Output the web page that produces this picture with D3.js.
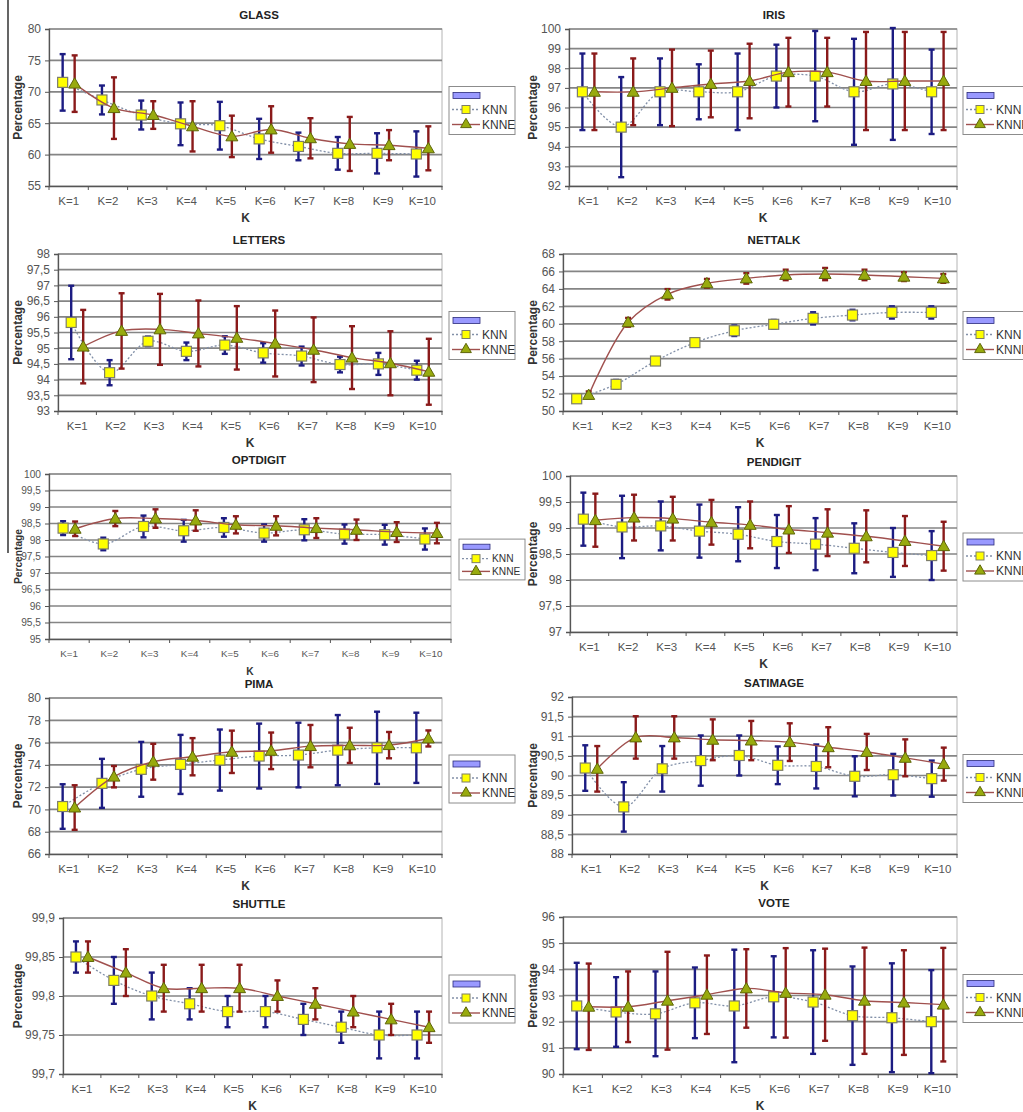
<!DOCTYPE html>
<html>
<head>
<meta charset="utf-8">
<script src="https://cdn.jsdelivr.net/npm/d3@7"></script>
<style>
  body { margin: 0; background: #fff; }
  text { font-family: Arial, "Liberation Sans", sans-serif; }
</style>
</head>
<body>
<div id="chart"></div>
<script>
// categories
const kLabels = ["K=1", "K=2", "K=3", "K=4", "K=5", "K=6", "K=7", "K=8", "K=9", "K=10"];

// GLASS
const glassKnn    = [71.5, 68.7, 66.3, 64.9, 64.6, 62.5, 61.3, 60.2, 60.2, 60.1];
const glassKnnSd  = [4.5, 2.3, 2.3, 3.4, 3.8, 3.2, 2.2, 2.6, 3.2, 3.6];
const glassKnne   = [71.3, 67.4, 66.3, 64.5, 62.9, 64.0, 62.6, 61.7, 61.5, 61.0];
const glassKnneSd = [4.5, 4.9, 2.2, 4.0, 3.3, 3.7, 3.2, 4.3, 2.4, 3.5];
const glassTicks  = [55, 60, 65, 70, 75, 80];

// IRIS
const irisKnn    = [96.8, 95.0, 96.8, 96.8, 96.8, 97.6, 97.6, 96.8, 97.2, 96.8];
const irisKnnSd  = [1.95, 2.55, 1.7, 1.4, 1.95, 1.6, 2.3, 2.7, 2.85, 2.15];
const irisKnne   = [96.8, 96.8, 97.0, 97.2, 97.35, 97.8, 97.8, 97.35, 97.35, 97.35];
const irisKnneSd = [1.95, 1.7, 1.95, 1.7, 1.9, 1.75, 1.75, 2.5, 2.5, 2.5];
const irisTicks  = [92, 93, 94, 95, 96, 97, 98, 99, 100];

// LETTERS
const lettersKnn    = [95.82, 94.22, 95.22, 94.9, 95.1, 94.85, 94.75, 94.48, 94.5, 94.3];
const lettersKnnSd  = [1.17, 0.4, 0.15, 0.28, 0.28, 0.31, 0.3, 0.25, 0.35, 0.3];
const lettersKnne   = [95.05, 95.55, 95.6, 95.47, 95.33, 95.15, 94.95, 94.7, 94.52, 94.25];
const lettersKnneSd = [1.17, 1.2, 1.13, 1.05, 1.01, 1.05, 1.03, 1.0, 1.02, 1.05];
const lettersTicks  = [93, 93.5, 94, 94.5, 95, 95.5, 96, 96.5, 97, 97.5, 98];

// NETTALK
const nettalkKnn    = [51.4, 53.06, 55.73, 57.84, 59.2, 59.94, 60.62, 61.0, 61.3, 61.3];
const nettalkKnnSd  = [0.2, 0.5, 0.3, 0.3, 0.6, 0.5, 0.7, 0.6, 0.7, 0.7];
const nettalkKnne   = [51.84, 60.17, 63.38, 64.64, 65.2, 65.6, 65.7, 65.6, 65.4, 65.2];
const nettalkKnneSd = [0.4, 0.5, 0.6, 0.5, 0.6, 0.6, 0.7, 0.6, 0.5, 0.5];
const nettalkTicks  = [50, 52, 54, 56, 58, 60, 62, 64, 66, 68];

// OPTDIGIT
const optKnn    = [98.36, 97.88, 98.41, 98.28, 98.38, 98.21, 98.31, 98.18, 98.16, 98.03];
const optKnnSd  = [0.21, 0.19, 0.33, 0.33, 0.28, 0.26, 0.32, 0.29, 0.3, 0.32];
const optKnne   = [98.34, 98.65, 98.65, 98.59, 98.46, 98.43, 98.36, 98.31, 98.24, 98.21];
const optKnneSd = [0.22, 0.23, 0.28, 0.31, 0.26, 0.29, 0.3, 0.31, 0.3, 0.31];
const optTicks  = [95, 95.5, 96, 96.5, 97, 97.5, 98, 98.5, 99, 99.5, 100];

// PENDIGIT
const penKnn    = [99.17, 99.02, 99.04, 98.94, 98.88, 98.74, 98.69, 98.61, 98.53, 98.47];
const penKnnSd  = [0.51, 0.6, 0.47, 0.51, 0.52, 0.51, 0.5, 0.48, 0.47, 0.47];
const penKnne   = [99.15, 99.2, 99.18, 99.11, 99.06, 98.97, 98.91, 98.84, 98.75, 98.65];
const penKnneSd = [0.51, 0.44, 0.42, 0.43, 0.45, 0.45, 0.45, 0.5, 0.48, 0.47];
const penTicks  = [97, 97.5, 98, 98.5, 99, 99.5, 100];

// PIMA
const pimaKnn    = [70.26, 72.34, 73.6, 74.04, 74.43, 74.79, 74.88, 75.32, 75.53, 75.53];
const pimaKnnSd  = [2.0, 2.2, 2.46, 2.65, 2.74, 2.91, 2.9, 3.15, 3.24, 3.15];
const pimaKnne   = [70.17, 72.94, 74.28, 74.73, 75.17, 75.26, 75.68, 75.75, 75.77, 76.37];
const pimaKnneSd = [2.0, 0.96, 1.61, 1.67, 1.9, 1.64, 1.9, 1.58, 1.18, 0.72];
const pimaTicks  = [66, 68, 70, 72, 74, 76, 78, 80];

// SATIMAGE
const satKnn    = [90.19, 89.2, 90.17, 90.38, 90.51, 90.26, 90.23, 89.98, 90.02, 89.92];
const satKnnSd  = [0.58, 0.63, 0.58, 0.64, 0.51, 0.48, 0.56, 0.51, 0.53, 0.46];
const satKnne   = [90.17, 90.97, 90.97, 90.91, 90.89, 90.85, 90.72, 90.6, 90.45, 90.29];
const satKnneSd = [0.58, 0.54, 0.54, 0.52, 0.5, 0.48, 0.51, 0.46, 0.47, 0.42];
const satTicks  = [88, 88.5, 89, 89.5, 90, 90.5, 91, 91.5, 92];

// SHUTTLE
const shuttleKnn    = [99.85, 99.82, 99.80, 99.79, 99.78, 99.78, 99.77, 99.76, 99.75, 99.75];
const shuttleKnnSd  = [0.02, 0.03, 0.03, 0.02, 0.02, 0.02, 0.02, 0.02, 0.03, 0.03];
const shuttleKnne   = [99.85, 99.83, 99.81, 99.81, 99.81, 99.80, 99.79, 99.78, 99.77, 99.76];
const shuttleKnneSd = [0.02, 0.03, 0.03, 0.03, 0.03, 0.02, 0.02, 0.02, 0.02, 0.02];
const shuttleTicks  = [99.7, 99.75, 99.8, 99.85, 99.9];

// VOTE
const voteKnn    = [92.6, 92.37, 92.3, 92.72, 92.6, 92.95, 92.75, 92.23, 92.15, 92.0];
const voteKnnSd  = [1.65, 1.33, 1.62, 1.35, 2.15, 1.55, 1.98, 1.88, 2.08, 1.97];
const voteKnne   = [92.57, 92.57, 92.8, 93.03, 93.27, 93.1, 93.03, 92.8, 92.73, 92.65];
const voteKnneSd = [1.65, 1.35, 1.87, 1.5, 1.5, 1.71, 1.76, 2.03, 2.0, 2.17];
const voteTicks  = [90, 91, 92, 93, 94, 95, 96];

// layout (plot boxes in page pixels)
const panels = [
  {title: "GLASS",    col: 0, left: 49,  top: 29,  right: 442, bottom: 186, ticks: glassTicks,   knn: glassKnn,   knnSd: glassKnnSd,   knne: glassKnne,   knneSd: glassKnneSd},
  {title: "IRIS",     col: 1, left: 569, top: 29,  right: 957, bottom: 186, ticks: irisTicks,    knn: irisKnn,    knnSd: irisKnnSd,    knne: irisKnne,    knneSd: irisKnneSd},
  {title: "LETTERS",  col: 0, left: 58,  top: 254, right: 442, bottom: 411, ticks: lettersTicks, knn: lettersKnn, knnSd: lettersKnnSd, knne: lettersKnne, knneSd: lettersKnneSd},
  {title: "NETTALK",  col: 1, left: 563, top: 254, right: 957, bottom: 411, ticks: nettalkTicks, knn: nettalkKnn, knnSd: nettalkKnnSd, knne: nettalkKnne, knneSd: nettalkKnneSd},
  {title: "OPTDIGIT", col: 0, left: 49,  top: 474, right: 451, bottom: 639, ticks: optTicks,     knn: optKnn,     knnSd: optKnnSd,     knne: optKnne,     knneSd: optKnneSd, small: true},
  {title: "PENDIGIT", col: 1, left: 570, top: 476, right: 957, bottom: 632, ticks: penTicks,     knn: penKnn,     knnSd: penKnnSd,     knne: penKnne,     knneSd: penKnneSd},
  {title: "PIMA",     col: 0, left: 49,  top: 698, right: 442, bottom: 854, ticks: pimaTicks,    knn: pimaKnn,    knnSd: pimaKnnSd,    knne: pimaKnne,    knneSd: pimaKnneSd},
  {title: "SATIMAGE", col: 1, left: 572, top: 697, right: 957, bottom: 854, ticks: satTicks,     knn: satKnn,     knnSd: satKnnSd,     knne: satKnne,     knneSd: satKnneSd},
  {title: "SHUTTLE",  col: 0, left: 63,  top: 918, right: 442, bottom: 1074, ticks: shuttleTicks, knn: shuttleKnn, knnSd: shuttleKnnSd, knne: shuttleKnne, knneSd: shuttleKnneSd},
  {title: "VOTE",     col: 1, left: 563, top: 917, right: 957, bottom: 1074, ticks: voteTicks,   knn: voteKnn,    knnSd: voteKnnSd,    knne: voteKnne,    knneSd: voteKnneSd}
];

const colTitleX = [259, 774];
const colYLabelX = [18, 533];
const colLegendX = [449, 963];

const KNN_BAR = "#1c1c82", KNNE_BAR = "#8a1a1a";
const KNN_LINE = "#8290a8", KNNE_LINE = "#a0504e";

const fmt = v => d3.format(".2~f")(v).replace(".", ",");

const svg = d3.select("#chart").append("svg")
  .attr("width", 1023)
  .attr("height", 1112);

// page margin line on the left
svg.append("line")
  .attr("x1", 8).attr("x2", 8).attr("y1", 0).attr("y2", 553)
  .attr("stroke", "#555").attr("stroke-width", 1.8);

const triangle = d3.symbol().type(d3.symbolTriangle).size(62);

const drawSeries = (g, x, y, vals, sds, off, opt) => {
  const cx = i => x(kLabels[i]) + x.bandwidth() / 2 + off;
  const line = d3.line()
    .x((d, i) => cx(i))
    .y(d => y(d))
    .curve(d3.curveCatmullRom.alpha(0.5));
  g.append("path")
    .datum(vals)
    .attr("d", line)
    .attr("fill", "none")
    .attr("stroke", opt.lineColor)
    .attr("stroke-width", opt.dashed ? 1.3 : 1.4)
    .attr("stroke-dasharray", opt.dashed ? "2,2" : null);

  const bars = g.append("g");
  vals.forEach((v, i) => {
    const hi = y(v + sds[i]), lo = y(v - sds[i]);
    bars.append("line").attr("x1", cx(i)).attr("x2", cx(i)).attr("y1", hi).attr("y2", lo);
    bars.append("line").attr("x1", cx(i) - 3).attr("x2", cx(i) + 3).attr("y1", hi).attr("y2", hi);
    bars.append("line").attr("x1", cx(i) - 3).attr("x2", cx(i) + 3).attr("y1", lo).attr("y2", lo);
  });
  bars.selectAll("line").attr("stroke", opt.barColor).attr("stroke-width", 2.4);

  if (opt.square) {
    g.selectAll(null).data(vals).join("rect")
      .attr("x", (d, i) => cx(i) - 5)
      .attr("y", d => y(d) - 5)
      .attr("width", 10).attr("height", 10)
      .attr("fill", "#ffff00")
      .attr("stroke", "#7d7d6a")
      .attr("stroke-width", 1.2);
  } else {
    g.selectAll(null).data(vals).join("path")
      .attr("d", triangle)
      .attr("transform", (d, i) => `translate(${cx(i)},${y(d) + 1})`)
      .attr("fill", "#98aa0e")
      .attr("stroke", "#5e6608")
      .attr("stroke-width", 1);
  }
};

const drawLegend = (g, lx, cy, s) => {
  const w = 66, h = 48 * s;
  const top = cy - h / 2;
  g.append("rect")
    .attr("x", lx).attr("y", top).attr("width", w).attr("height", h)
    .attr("fill", "#fff").attr("stroke", "#8c8c8c").attr("stroke-width", 1);
  g.append("rect")
    .attr("x", lx + 4).attr("y", top + 6 * s).attr("width", 27).attr("height", 6 * s)
    .attr("fill", "#9999ff").attr("stroke", "#2a2a7a").attr("stroke-width", 0.8);
  const r1 = top + 23 * s, r2 = top + 38 * s;
  g.append("line").attr("x1", lx + 3).attr("x2", lx + 31).attr("y1", r1).attr("y2", r1)
    .attr("stroke", KNN_LINE).attr("stroke-width", 1.3).attr("stroke-dasharray", "2,2");
  g.append("rect").attr("x", lx + 13).attr("y", r1 - 4).attr("width", 8).attr("height", 8)
    .attr("fill", "#ffff00").attr("stroke", "#7d7d6a");
  g.append("line").attr("x1", lx + 3).attr("x2", lx + 31).attr("y1", r2).attr("y2", r2)
    .attr("stroke", KNNE_LINE).attr("stroke-width", 1.4);
  g.append("path").attr("d", d3.symbol().type(d3.symbolTriangle).size(50))
    .attr("transform", `translate(${lx + 17},${r2})`)
    .attr("fill", "#98aa0e").attr("stroke", "#5e6608");
  g.selectAll(null).data([["KNN", r1], ["KNNE", r2]]).join("text")
    .attr("x", lx + 33).attr("y", d => d[1] + 4 * s)
    .attr("font-size", 12 * s).attr("fill", "#333")
    .text(d => d[0]);
};

const drawPanel = (p) => {
  const s = p.small ? 0.85 : 1;
  const g = svg.append("g");
  const x = d3.scaleBand().domain(kLabels).range([p.left, p.right]);
  const y = d3.scaleLinear()
    .domain([p.ticks[0], p.ticks[p.ticks.length - 1]])
    .range([p.bottom, p.top]);

  // plot frame and gridlines
  g.append("rect")
    .attr("x", p.left).attr("y", p.top)
    .attr("width", p.right - p.left).attr("height", p.bottom - p.top)
    .attr("fill", "#fff").attr("stroke", "#b4b4b4").attr("stroke-width", 1);
  g.selectAll(null).data(p.ticks.slice(1)).join("line")
    .attr("x1", p.left).attr("x2", p.right)
    .attr("y1", d => y(d)).attr("y2", d => y(d))
    .attr("stroke", "#858585").attr("stroke-width", 1.7);

  // y axis
  const yAxis = g.append("g")
    .attr("transform", `translate(${p.left},0)`)
    .call(d3.axisLeft(y).tickValues(p.ticks).tickSize(4).tickPadding(4).tickFormat(fmt));
  yAxis.select(".domain").attr("stroke", "#555").attr("stroke-width", 1.3);
  yAxis.selectAll(".tick line").attr("stroke", "#555");
  yAxis.selectAll(".tick text").attr("font-size", 12 * s).attr("fill", "#555")
    .attr("font-family", "Arial, 'Liberation Sans', sans-serif");

  // x axis
  const xAxis = g.append("g")
    .attr("transform", `translate(0,${p.bottom})`)
    .call(d3.axisBottom(x).tickSize(0).tickPadding(11));
  xAxis.select(".domain").attr("stroke", "#555").attr("stroke-width", 1.3);
  xAxis.selectAll(".tick text").attr("font-size", 11.5 * s).attr("fill", "#555")
    .attr("font-family", "Arial, 'Liberation Sans', sans-serif");
  xAxis.selectAll(null).data(d3.range(kLabels.length + 1)).join("line")
    .attr("x1", i => p.left + i * x.step()).attr("x2", i => p.left + i * x.step())
    .attr("y1", 0).attr("y2", 4)
    .attr("stroke", "#555");

  // series
  drawSeries(g, x, y, p.knn, p.knnSd, -6, {lineColor: KNN_LINE, barColor: KNN_BAR, dashed: true, square: true});
  drawSeries(g, x, y, p.knne, p.knneSd, 6, {lineColor: KNNE_LINE, barColor: KNNE_BAR, dashed: false, square: false});

  // titles
  g.append("text")
    .attr("x", colTitleX[p.col]).attr("y", p.top - 10)
    .attr("text-anchor", "middle").attr("font-size", 11.5).attr("font-weight", "bold").attr("fill", "#222")
    .text(p.title);
  g.append("text")
    .attr("x", (p.left + p.right) / 2).attr("y", p.bottom + 36)
    .attr("text-anchor", "middle").attr("font-size", 12 * s).attr("font-weight", "bold").attr("fill", "#333")
    .text("K");
  g.append("text")
    .attr("transform", `translate(${colYLabelX[p.col] + 4},${(p.top + p.bottom) / 2}) rotate(-90)`)
    .attr("text-anchor", "middle").attr("font-size", 12 * s).attr("font-weight", "bold").attr("fill", "#333")
    .text("Percentage");

  drawLegend(g, colLegendX[p.col] + (p.small ? 10 : 0), (p.top + p.bottom) / 2 + 3, s);
};

panels.forEach(drawPanel);
</script>
</body>
</html>
